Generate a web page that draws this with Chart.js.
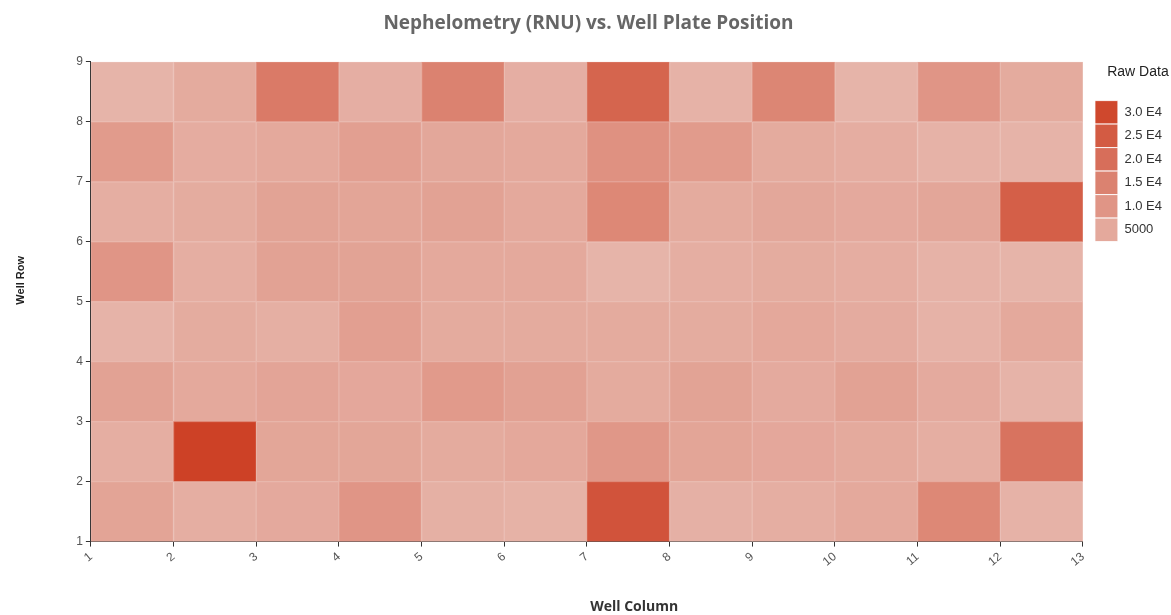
<!DOCTYPE html>
<html>
<head>
<meta charset="utf-8">
<script src="https://cdn.jsdelivr.net/npm/chart.js@4/dist/chart.umd.min.js"></script>
<style>
  html, body { margin: 0; padding: 0; background: #fff; }
  #wrap { width: 1171px; height: 615px; }
</style>
</head>
<body>
<div id="wrap"><canvas id="heatmap" width="1171" height="615"></canvas></div>
<script>
// Colonnes et rangées de la plaque (1 à 12, 1 à 8)
const wellColumns = [1, 2, 3, 4, 5, 6, 7, 8, 9, 10, 11, 12];
const wellRows = [1, 2, 3, 4, 5, 6, 7, 8];

// Valeurs brutes de néphélométrie, une liste par rangée (colonnes 1 à 12)
const row1 = [6300, 3600, 4800, 10000, 3200, 2700, 27000, 3000, 3600, 5000, 13500, 2500];
const row2 = [3700, 31700, 5800, 5800, 4500, 5200, 9500, 6000, 5300, 4700, 3600, 18800];
const row3 = [6800, 5000, 6200, 5300, 8800, 7000, 4500, 6500, 4600, 6800, 4600, 2200];
const row4 = [2200, 4200, 3300, 7500, 4500, 4500, 4500, 4200, 5200, 4300, 2500, 5000];
const row5 = [10000, 3700, 6800, 6500, 5000, 5000, 2000, 3600, 4200, 3800, 2500, 2000];
const row6 = [3700, 4200, 6500, 6000, 6800, 5000, 13500, 4500, 5500, 4800, 5600, 24000];
const row7 = [8500, 4000, 5000, 7500, 5500, 5000, 11000, 8500, 4500, 3800, 2500, 2200];
const row8 = [2000, 4500, 17000, 3500, 15000, 3500, 22500, 2500, 14000, 2000, 10000, 4500];
const rowValues = [row1, row2, row3, row4, row5, row6, row7, row8];

// Légende
const legendValues = [30000, 25000, 20000, 15000, 10000, 5000];
const legendLabels = ['3.0 E4', '2.5 E4', '2.0 E4', '1.5 E4', '1.0 E4', '5000'];

// Échelle de couleur linéaire du clair au rouge foncé
const colorLow = [232, 188, 178];
const colorHigh = [204, 60, 32];
const colorMax = 33000;
function melange(v, blanc) {
  const t = Math.max(0, Math.min(1, v / colorMax));
  return colorLow.map((lo, i) => {
    const c = lo + (colorHigh[i] - lo) * t;
    return Math.round(c + (255 - c) * blanc);
  });
}
function couleur(v) {
  const c = melange(v, 0);
  return `rgb(${c[0]}, ${c[1]}, ${c[2]})`;
}
// bordure : même teinte un peu éclaircie
function couleurBord(v) {
  const c = melange(v, 0.18);
  return `rgb(${c[0]}, ${c[1]}, ${c[2]})`;
}

// Une série par rangée : barres flottantes [rangée, rangée + 1]
const datasets = wellRows.map((r, i) => ({
  label: 'Row ' + r,
  data: wellColumns.map(c => ({ x: c + 0.5, y: [r, r + 1] })),
  backgroundColor: rowValues[i].map(couleur),
  borderColor: rowValues[i].map(couleurBord),
  borderWidth: 1,
  borderSkipped: false,
  grouped: false,
  barPercentage: 1,
  categoryPercentage: 1
}));

// Petit écart entre la zone du graphique et la légende
const largeurEnPlus = 9;
const decalageLegende = {
  id: 'decalageLegende',
  afterInit(chart) {
    const leg = chart.legend;
    const fit = leg.fit.bind(leg);
    leg.fit = function() { fit(); this.width += largeurEnPlus; };
    const draw = leg.draw.bind(leg);
    leg.draw = function() { this.left += 12; draw(); this.left -= 12; };
  }
};

const tickFont = { family: '"Liberation Sans", Arial, sans-serif', size: 12 };
const legendFont = { family: '"Liberation Sans", Arial, sans-serif', size: 13 };

// Les titres d'axe ne sont pas centrés sur la zone du graphique dans l'original
const titreX = ' '.repeat(26) + 'Well Column';
const titreY = ' '.repeat(14) + 'Well Row';

new Chart(document.getElementById('heatmap'), {
  type: 'bar',
  data: { datasets },
  plugins: [decalageLegende],
  options: {
    responsive: false,
    animation: false,
    layout: { padding: { left: 8, right: 2, top: 0, bottom: 0 } },
    plugins: {
      title: {
        display: true,
        text: 'Nephelometry (RNU) vs. Well Plate Position',
        color: '#666',
        font: { family: '"Open Sans", sans-serif', size: 19, weight: 'bold' },
        padding: { top: 12, bottom: 27 }
      },
      tooltip: { enabled: false },
      legend: {
        position: 'right',
        align: 'start',
        fullSize: false,
        onClick: null,
        title: {
          display: true,
          text: 'Raw Data',
          color: '#222',
          font: { family: '"Liberation Sans", Arial, sans-serif', size: 14 },
          padding: { top: 3, bottom: 19 }
        },
        labels: {
          boxWidth: 23,
          boxHeight: 23.5,
          padding: 0,
          color: '#333',
          font: legendFont,
          generateLabels: () => legendValues.map((v, i) => ({
            text: legendLabels[i],
            fillStyle: couleur(v),
            strokeStyle: 'rgba(255, 255, 255, 0.9)',
            lineWidth: 1,
            hidden: false,
            fontColor: '#333'
          }))
        }
      }
    },
    scales: {
      x: {
        type: 'linear',
        min: 1,
        max: 13,
        offset: false,
        grid: { offset: false, drawOnChartArea: false, color: '#333', tickLength: 5 },
        border: { color: '#333', width: 1 },
        ticks: { stepSize: 1, color: '#555', font: tickFont, minRotation: 40, maxRotation: 40, padding: 3 },
        title: {
          display: true, text: titreX, color: '#333',
          font: { family: '"Open Sans", sans-serif', size: 14, weight: 'bold' },
          padding: { top: 26, bottom: 0 }
        }
      },
      y: {
        type: 'linear',
        min: 1,
        max: 9,
        grid: { drawOnChartArea: false, color: '#333', tickLength: 5 },
        border: { color: '#333', width: 1 },
        ticks: { stepSize: 1, color: '#555', font: tickFont, padding: 3 },
        title: {
          display: true, text: titreY, color: '#222',
          font: { family: '"Liberation Sans", Arial, sans-serif', size: 11, weight: 'bold' },
          padding: { top: 6, bottom: 46 }
        }
      }
    }
  }
});
</script>
</body>
</html>
